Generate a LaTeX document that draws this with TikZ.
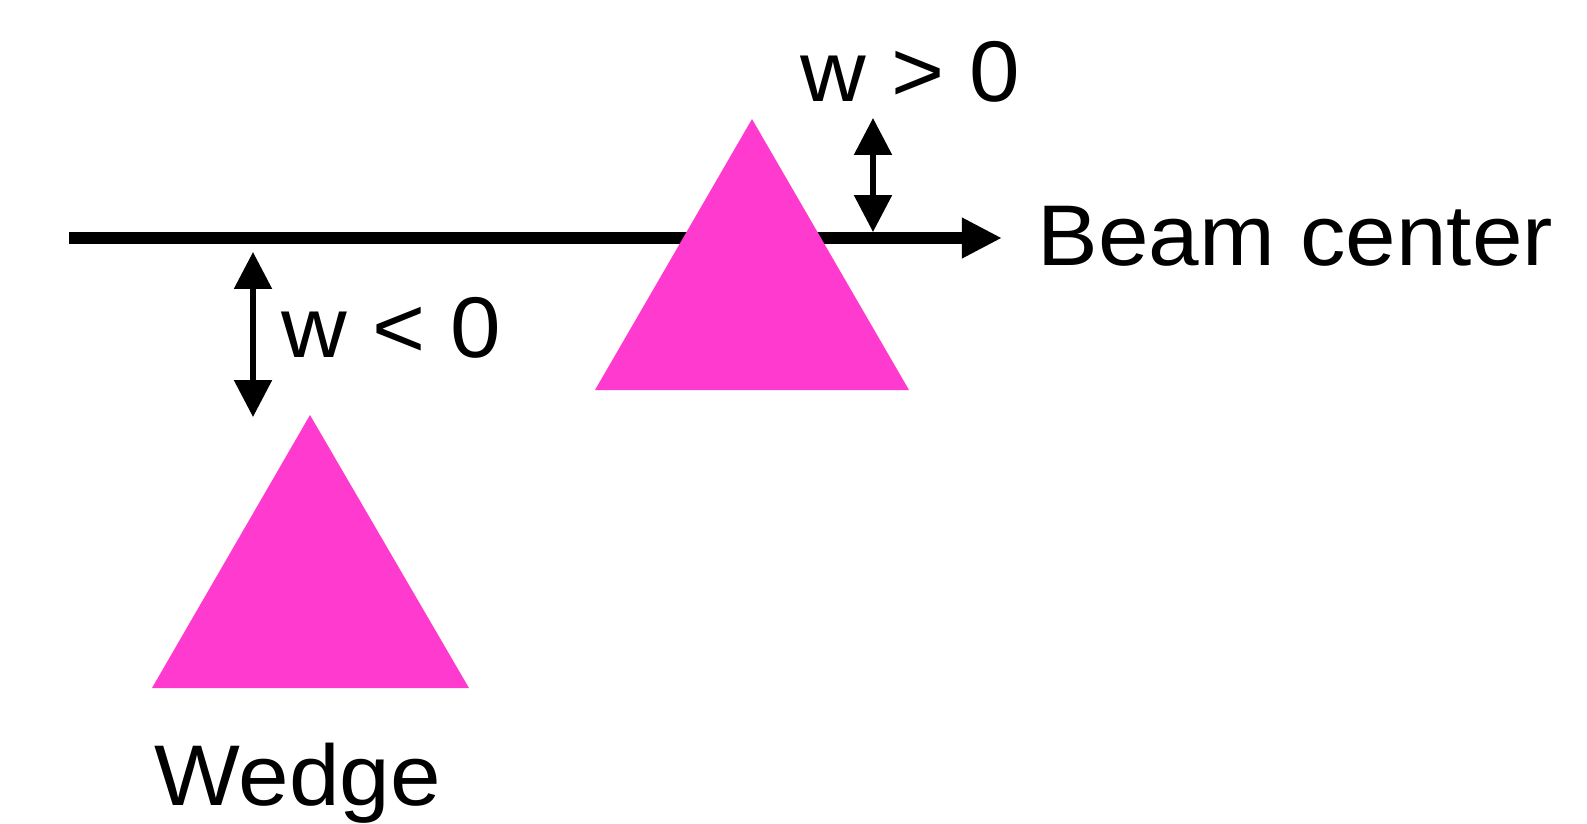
\documentclass[tikz,border=0pt]{standalone}
\usepackage{fontspec}
\setmainfont{Liberation Sans}
\usepackage{xcolor}
\usepackage{graphicx}
\usetikzlibrary{arrows.meta,positioning}
\definecolor{wedgepink}{HTML}{FF3BCF}
\newcommand{\widetxt}[1]{\scalebox{1.055}[1]{#1}}

\begin{document}
\begin{tikzpicture}[x=0.01cm,y=0.01cm,
    lbl/.style={inner sep=0pt,anchor=base west,font=\fontsize{24.5}{28}\selectfont},
    wedgetri/.style={fill=wedgepink,draw=none},
    offset/.style={line width=1.6pt,{Triangle[length=10.5pt,width=10.5pt]}-{Triangle[length=10.5pt,width=10.5pt]}}]
  \useasboundingbox (0,0) rectangle (1587,823);
  % beam centre line
  \coordinate (beamstart) at (69,585);
  \coordinate (beamend) at (1002,585);
  \draw[line width=3.2pt,-{Triangle[length=11.4pt,width=10.8pt]}] (beamstart)--(beamend);
  \node[lbl] (beamlbl) at (1037,558) {\widetxt{Beam center}};
  % wedges
  \fill[wedgetri] (752,704)--(909,433)--(595,433)--cycle;
  \fill[wedgetri] (310,408)--(469,135)--(152,135)--cycle;
  \node[lbl] (wedgelbl) at (154,18) {\widetxt{Wedge}};
  % offsets
  \coordinate (wpostop) at (873,705);
  \coordinate (wposbot) at (873,591);
  \draw[offset] (wposbot)--(wpostop);
  \node[lbl] (wpos) at (800,722) {\widetxt{w > 0}};
  \coordinate (wnegtop) at (253,571);
  \coordinate (wnegbot) at (253,406);
  \draw[offset] (wnegtop)--(wnegbot);
  \node[lbl] (wneg) at (281,466) {\widetxt{w < 0}};
\end{tikzpicture}
\end{document}
